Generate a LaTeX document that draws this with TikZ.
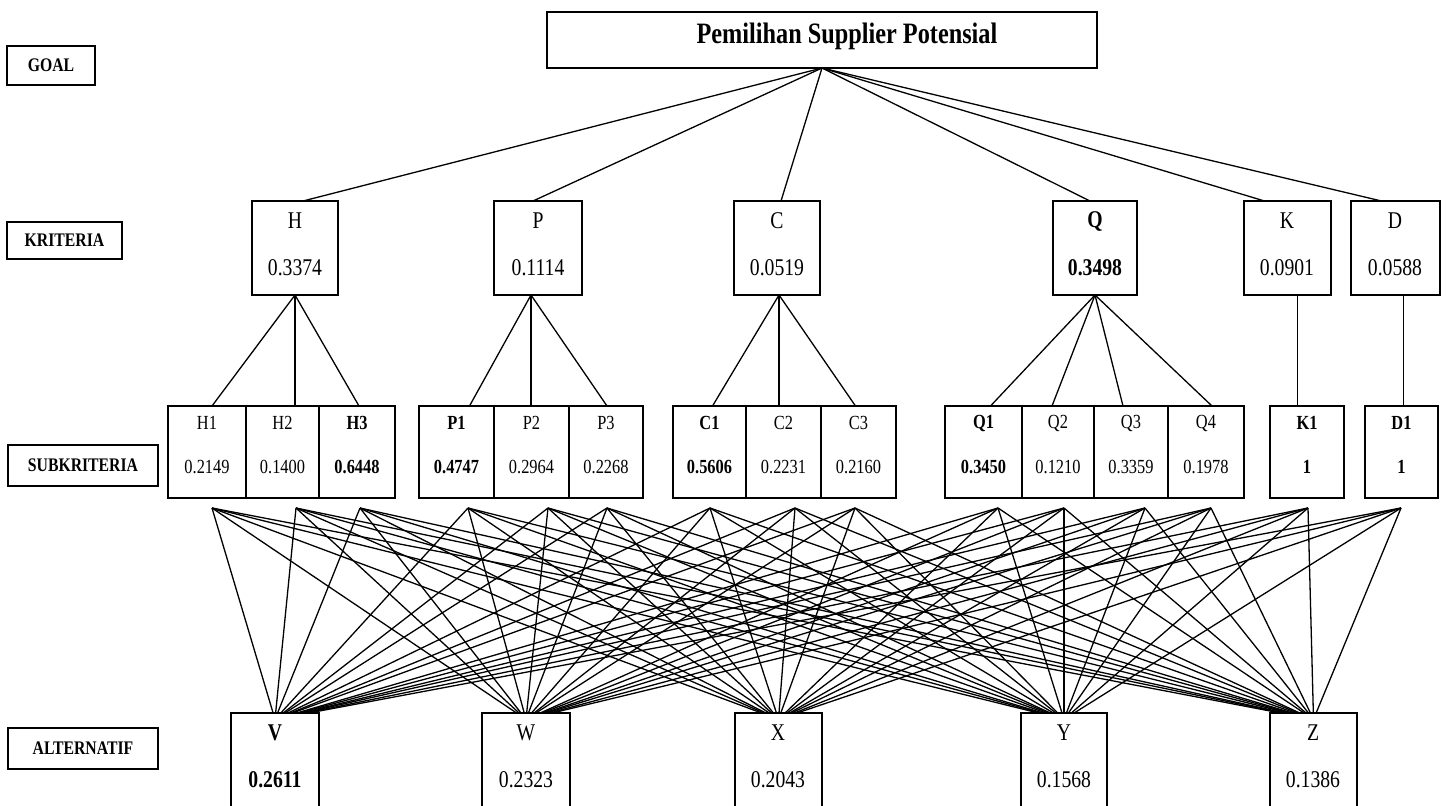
\documentclass[tikz,border=0pt]{standalone}
\usepackage{fontspec}
\setmainfont{Liberation Serif}[FakeStretch=0.82]
\usetikzlibrary{calc}
\newcommand\rbox[6][]{%
  \pgfmathsetmacro\bxw{(#4-#2)*0.5}%
  \pgfmathsetmacro\bxh{(#5-#3)*0.5}%
  \node[box,#1,minimum width=\bxw pt,minimum height=\bxh pt] (#6) at ({(#2+#4)/2},{(#3+#5)/2}) {};}
\begin{document}
\begin{tikzpicture}[x=0.5pt,y=-0.5pt,
  box/.style={draw,line width=0.8pt,inner sep=0pt,outer sep=0pt},
  edge/.style={line width=0.65pt},
  lvl/.style={font=\bfseries\fontsize{9.6}{11}\selectfont},
  crit/.style={font=\fontsize{12}{14}\selectfont},
  critb/.style={font=\bfseries\fontsize{12}{14}\selectfont},
  sub/.style={font=\fontsize{10}{12}\selectfont},
  subb/.style={font=\bfseries\fontsize{10}{12}\selectfont},
  goalt/.style={font=\bfseries\fontsize{14.8}{17}\selectfont}]
\clip (0,0) rectangle (1446,805);
\fill[white] (0,0) rectangle (1446,805);

% level labels
\rbox{7}{46}{95}{85}{Lgoal}
\node[lvl] (tgoal) at (Lgoal) {GOAL};
\rbox{7}{222}{122}{259}{Lkrit}
\node[lvl] (tkrit) at (Lkrit) {KRITERIA};
\rbox{8}{445}{158}{486}{Lsub}
\node[lvl] (tsub) at (Lsub) {SUBKRITERIA};
\rbox{8}{728}{158}{769}{Lalt}
\node[lvl] (talt) at (Lalt) {ALTERNATIF};

% goal
\rbox{547}{12}{1097}{68}{G}
\node[goalt] (Gt) at (847,36) {Pemilihan Supplier Potensial};

% criteria
\rbox{252}{201}{338}{295}{H}
\rbox{494}{201}{582}{295}{P}
\rbox{734}{201}{820}{295}{C}
\rbox{1053}{201}{1137}{295}{Q}
\rbox{1244}{201}{1331}{295}{K}
\rbox{1351}{201}{1440}{295}{D}
\node[crit] (Hl) at (295,221) {H};   \node[crit] (Hv) at (295,268) {0.3374};
\node[crit] (Pl) at (538,221) {P};   \node[crit] (Pv) at (538,268) {0.1114};
\node[crit] (Cl) at (777,221) {C};   \node[crit] (Cv) at (777,268) {0.0519};
\node[critb] (Ql) at (1095,221) {Q}; \node[critb] (Qv) at (1095,268) {0.3498};
\node[crit] (Kl) at (1287,221) {K};  \node[crit] (Kv) at (1287,268) {0.0901};
\node[crit] (Dl) at (1395,221) {D};  \node[crit] (Dv) at (1395,268) {0.0588};

% subcriteria
\rbox{168}{406}{246}{498}{H1}
\rbox{246}{406}{319}{498}{H2}
\rbox{319}{406}{395}{498}{H3}
\rbox{419}{406}{494}{498}{P1}
\rbox{494}{406}{569}{498}{P2}
\rbox{569}{406}{643}{498}{P3}
\rbox{673}{406}{746}{498}{C1}
\rbox{746}{406}{821}{498}{C2}
\rbox{821}{406}{896}{498}{C3}
\draw[line width=1.3pt] (C3.north west) -- (C3.south west);
\rbox{945}{406}{1022}{498}{Q1}
\rbox{1022}{406}{1094}{498}{Q2}
\rbox{1094}{406}{1168}{498}{Q3}
\rbox{1168}{406}{1244}{498}{Q4}
\rbox{1270}{406}{1344}{498}{K1}
\rbox{1365}{406}{1438}{498}{D1}
\foreach \s/\l/\v/\st in {H1/H1/0.2149/sub,H2/H2/0.1400/sub,H3/H3/0.6448/subb,
  P1/P1/0.4747/subb,P2/P2/0.2964/sub,P3/P3/0.2268/sub,
  C1/C1/0.5606/subb,C2/C2/0.2231/sub,C3/C3/0.2160/sub,
  Q1/Q1/0.3450/subb,Q2/Q2/0.1210/sub,Q3/Q3/0.3359/sub,Q4/Q4/0.1978/sub,
  K1/K1/1/subb,D1/D1/1/subb}{
  \node[\st,anchor=center] (\s l) at ($(\s.north)+(0,17)$) {\l};
  \node[\st,anchor=center] (\s v) at ($(\s.north)+(0,61)$) {\v};
}

% alternatives
\rbox{231}{713}{319}{820}{V}
\rbox{482}{713}{570}{820}{W}
\rbox{735}{713}{822}{820}{X}
\rbox{1021}{713}{1107}{820}{Y}
\rbox{1270}{713}{1357}{820}{Z}
\node[critb] (Vl) at (275,733) {V};  \node[critb] (Vv) at (275,780) {0.2611};
\node[crit] (Wl) at (526,733) {W};   \node[crit] (Wv) at (526,780) {0.2323};
\node[crit] (Xl) at (778,733) {X};   \node[crit] (Xv) at (778,780) {0.2043};
\node[crit] (Yl) at (1064,733) {Y};  \node[crit] (Yv) at (1064,780) {0.1568};
\node[crit] (Zl) at (1313,733) {Z};  \node[crit] (Zv) at (1313,780) {0.1386};

% goal -> criteria
\draw[edge] (G.south) -- ($(H.north)+(8,0)$);
\draw[edge] (G.south) -- ($(P.north)+(-5,0)$);
\draw[edge] (G.south) -- ($(C.north)+(4,0)$);
\draw[edge] (G.south) -- ($(Q.north)+(-5,0)$);
\draw[edge] (G.south) -- ($(K.north)+(-23,0)$);
\draw[edge] (G.south) -- ($(D.north)+(-14,0)$);

% criteria -> subcriteria
\draw[edge] (H.south) -- ($(H1.north)+(5,0)$);
\draw[edge] (H.south) -- (H.south |- H2.north);
\draw[edge] (H.south) -- ($(H3.north)+(2,0)$);
\coordinate (Ps) at ($(P.south)+(-7,0)$);
\draw[edge] (Ps) -- ($(P1.north)+(13,0)$);
\draw[edge] (Ps) -- (Ps |- P2.north);
\draw[edge] (Ps) -- ($(P3.north)+(1,0)$);
\coordinate (Cs) at ($(C.south)+(2,0)$);
\draw[edge] (Cs) -- ($(C1.north)+(3,0)$);
\draw[edge] (Cs) -- (Cs |- C2.north);
\draw[edge] (Cs) -- ($(C3.north)+(-3,0)$);
\draw[edge] (Q.south) -- ($(Q1.north)+(7,0)$);
\draw[edge] (Q.south) -- ($(Q2.north)+(-6,0)$);
\draw[edge] (Q.south) -- ($(Q3.north)+(-8,0)$);
\draw[edge] (Q.south) -- ($(Q4.north)+(6,0)$);
\coordinate (Ks) at ($(K.south)+(10,0)$);
\draw[edge] (Ks) -- (Ks |- K1.north);
\coordinate (Ds) at ($(D.south)+(8,0)$);
\draw[edge] (Ds) -- (Ds |- D1.north);

% subcriteria -> alternatives
\foreach \s/\xx in {H1/212,H2/296,H3/360,P1/468,P2/548,P3/607,C1/710,C2/795,C3/855,
  Q1/998,Q2/1064,Q3/1145,Q4/1211,K1/1308,D1/1401}{
  \coordinate (\s b) at (\xx,508);
}
\foreach \s in {H1,H2,H3,P1,P2,P3,C1,C2,C3,Q1,Q2,Q3,Q4,K1,D1}{
  \foreach \a in {V,W,X,Y,Z}{
    \draw[edge] let \p1=(\s b), \p2=(\a.north) in
      (\s b) -- ([xshift={0.03*(\x1-\x2)}]\a.north);
  }
}
\end{tikzpicture}
\end{document}
